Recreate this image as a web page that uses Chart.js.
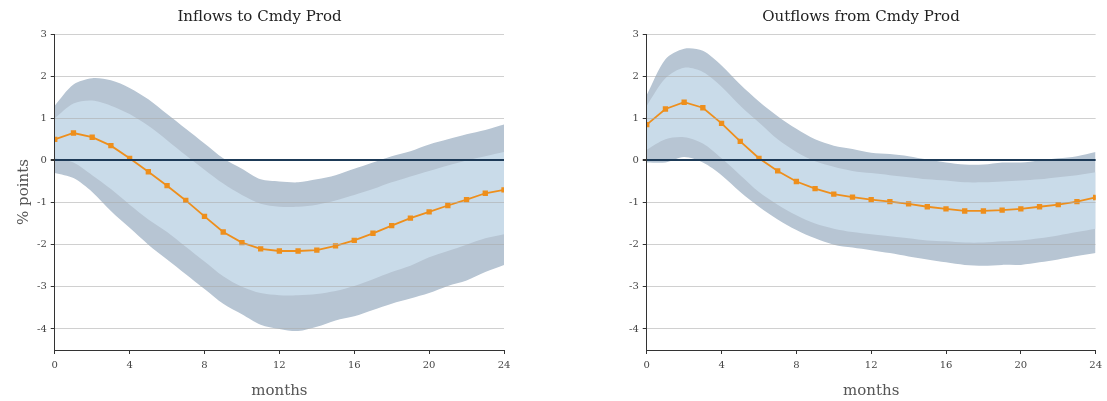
<!DOCTYPE html>
<html><head><meta charset="utf-8">
<script src="https://cdn.jsdelivr.net/npm/chart.js@4"></script>
<style>
body{margin:0;background:#fff;width:1107px;height:401px;overflow:hidden}
.box{position:absolute;top:0;height:401px}
</style></head><body>
<div class="box" style="left:0;width:520px"><canvas id="c1"></canvas></div>
<div class="box" style="left:592px;width:515px"><canvas id="c2"></canvas></div>
<script>
const months = [0,1,2,3,4,5,6,7,8,9,10,11,12,13,14,15,16,17,18,19,20,21,22,23,24];

const inMid = [0.5,0.65,0.55,0.35,0.05,-0.27,-0.6,-0.95,-1.33,-1.7,-1.95,-2.1,-2.15,-2.15,-2.13,-2.03,-1.9,-1.73,-1.55,-1.37,-1.22,-1.07,-0.93,-0.78,-0.7];
const inOuterHi = [1.3,1.8,1.95,1.9,1.72,1.45,1.1,0.75,0.4,0.05,-0.2,-0.45,-0.5,-0.52,-0.45,-0.35,-0.2,-0.05,0.1,0.22,0.38,0.5,0.62,0.72,0.85];
const inOuterLo = [-0.3,-0.42,-0.75,-1.2,-1.6,-2.0,-2.35,-2.7,-3.05,-3.4,-3.65,-3.9,-4.0,-4.05,-3.95,-3.8,-3.7,-3.55,-3.4,-3.28,-3.15,-2.98,-2.85,-2.65,-2.48];
const inInnerHi = [1.0,1.35,1.42,1.3,1.1,0.82,0.48,0.12,-0.22,-0.55,-0.82,-1.03,-1.1,-1.1,-1.05,-0.95,-0.82,-0.68,-0.52,-0.38,-0.25,-0.12,0.0,0.1,0.2];
const inInnerLo = [0.05,-0.05,-0.35,-0.68,-1.05,-1.4,-1.7,-2.05,-2.4,-2.75,-3.0,-3.15,-3.2,-3.2,-3.17,-3.1,-2.98,-2.82,-2.65,-2.5,-2.3,-2.15,-2.0,-1.85,-1.75];

const outMid = [0.85,1.22,1.38,1.25,0.88,0.45,0.05,-0.25,-0.5,-0.67,-0.8,-0.87,-0.93,-0.98,-1.03,-1.1,-1.15,-1.2,-1.2,-1.18,-1.15,-1.1,-1.05,-0.98,-0.88];
const outOuterHi = [1.55,2.4,2.65,2.6,2.25,1.8,1.4,1.05,0.75,0.5,0.35,0.27,0.18,0.15,0.1,0.02,-0.05,-0.1,-0.1,-0.05,-0.05,0.0,0.05,0.1,0.2];
const outOuterLo = [-0.05,-0.05,0.08,-0.05,-0.35,-0.75,-1.1,-1.4,-1.65,-1.85,-2.0,-2.07,-2.13,-2.2,-2.28,-2.35,-2.42,-2.48,-2.5,-2.48,-2.48,-2.42,-2.35,-2.27,-2.2];
const outInnerHi = [1.3,1.95,2.2,2.1,1.75,1.3,0.9,0.5,0.2,-0.02,-0.15,-0.25,-0.3,-0.35,-0.4,-0.45,-0.48,-0.52,-0.52,-0.5,-0.48,-0.45,-0.4,-0.35,-0.28];
const outInnerLo = [0.25,0.5,0.55,0.4,0.05,-0.35,-0.75,-1.05,-1.3,-1.5,-1.62,-1.7,-1.75,-1.8,-1.85,-1.9,-1.92,-1.95,-1.95,-1.92,-1.9,-1.85,-1.78,-1.7,-1.62];

const xy = arr => arr.map((v, i) => ({x: months[i], y: v}));
const band = (d, fillTo, color) => ({data: xy(d), borderWidth: 0, pointRadius: 0, fill: fillTo, backgroundColor: color, tension: 0.3});
const serif = 'DejaVu Serif';

function makeChart(id, title, mid, oHi, oLo, iHi, iLo, showYTitle, pad) {
  return new Chart(document.getElementById(id), {
    type: 'line',
    data: { datasets: [
      {data: xy(mid), borderColor: '#ee8f1c', backgroundColor: '#ee8f1c', borderWidth: 1.8,
       pointStyle: 'rect', pointRadius: 2.5, fill: false, tension: 0},
      band(iHi, 2, '#c9dbe9'), band(iLo, false, 'transparent'),
      band(oHi, 4, '#b7c5d3'), band(oLo, false, 'transparent')
    ]},
    options: {
      animation: false, responsive: true, maintainAspectRatio: false,
      layout: { padding: pad },
      plugins: { legend: {display: false}, tooltip: {enabled: false},
        title: { display: true, text: title, color: '#222', font: {family: serif, size: 15, weight: 'normal'}, padding: {top: 6, bottom: 8} } },
      scales: {
        x: { type: 'linear', min: 0, max: 24,
          ticks: { stepSize: 4, color: '#444', font: {family: serif, size: 10}, padding: 5 },
          grid: { drawOnChartArea: false, color: '#333', tickLength: 4 },
          border: { color: '#333' },
          title: { display: true, text: 'months', color: '#555', font: {family: serif, size: 15}, padding: {top: 6, bottom: 0} } },
        y: { min: -4.5, max: 3,
          afterBuildTicks: ax => { ax.ticks = [3,2,1,0,-1,-2,-3,-4].map(v => ({value: v})); },
          ticks: { color: '#444', font: {family: serif, size: 10}, padding: 4 },
          grid: { color: c => c.tick && c.tick.value === 0 ? '#1d3a57' : 'rgba(170,170,170,0.55)',
                  lineWidth: c => c.tick && c.tick.value === 0 ? 2 : 1, tickLength: 4, tickColor: '#333', z: 1 },
          border: { color: '#333', z: 1 },
          title: { display: showYTitle, text: '% points', color: '#555', font: {family: serif, size: 15}, padding: 0 } }
      }
    }
  });
}

makeChart('c1', 'Inflows to Cmdy Prod', inMid, inOuterHi, inOuterLo, inInnerHi, inInnerLo, true, {left: 15, right: 16, bottom: 1, top: 2});
makeChart('c2', 'Outflows from Cmdy Prod', outMid, outOuterHi, outOuterLo, outInnerHi, outInnerLo, false, {left: 33, right: 10, bottom: 1, top: 2});
</script>
</body></html>
